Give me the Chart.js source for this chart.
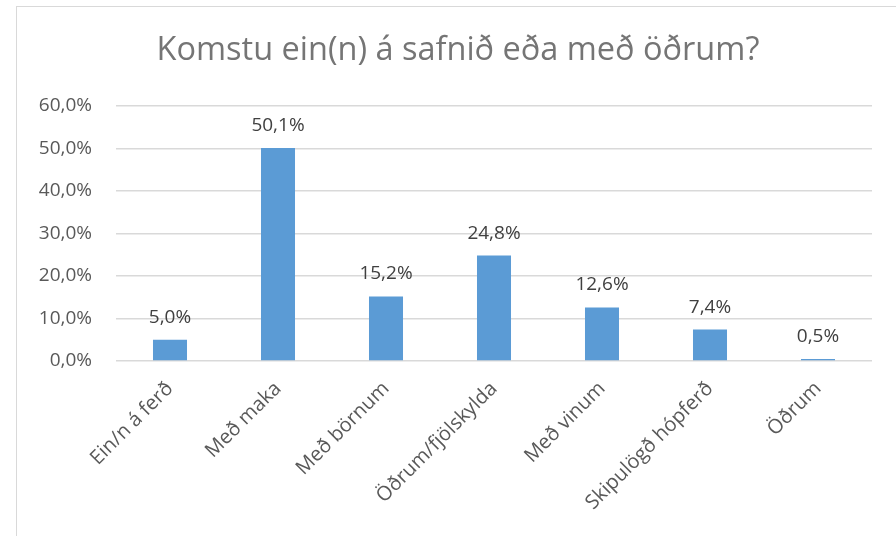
<!DOCTYPE html>
<html>
<head>
<meta charset="utf-8">
<script src="https://cdn.jsdelivr.net/npm/chart.js@4.4.1/dist/chart.umd.min.js"></script>
<style>
  html, body { margin: 0; padding: 0; background: #fff; overflow: hidden; width: 896px; height: 536px; }
  #box { position: absolute; left: 16px; top: 6px; width: 900px; height: 560px; border: 1px solid #d9d9d9; box-sizing: border-box; }
  #wrap { position: absolute; left: 17px; top: 7px; width: 882px; height: 529px; }
</style>
</head>
<body>
<div id="box"></div>
<div id="wrap"><canvas id="c"></canvas></div>
<script>
const titleText = "Komstu ein(n) á safnið eða með öðrum?";
const categories = ["Ein/n á ferð", "Með maka", "Með börnum", "Öðrum/fjölskylda", "Með vinum", "Skipulögð hópferð", "Öðrum"];
const values = [5.0, 50.1, 15.2, 24.8, 12.6, 7.4, 0.5];
const yTicks = [0, 10, 20, 30, 40, 50, 60];

const fmt = v => v.toFixed(1).replace('.', ',') + '%';
const FONT = "'Open Sans', sans-serif";

const dataLabels = {
  id: 'dataLabels',
  afterDatasetsDraw(chart) {
    const ctx = chart.ctx;
    const meta = chart.getDatasetMeta(0);
    ctx.save();
    ctx.font = "19px " + FONT;
    ctx.fillStyle = '#404040';
    ctx.textAlign = 'center';
    ctx.textBaseline = 'alphabetic';
    meta.data.forEach((bar, i) => {
      ctx.fillText(fmt(values[i]), bar.x, bar.y - 17);
    });
    ctx.restore();
  }
};

new Chart(document.getElementById('c'), {
  type: 'bar',
  data: {
    labels: categories,
    datasets: [{
      data: values,
      backgroundColor: '#5b9bd5',
      borderWidth: 0,
      barPercentage: 0.63,
      categoryPercentage: 0.5
    }]
  },
  options: {
    responsive: true,
    maintainAspectRatio: false,
    animation: false,
    layout: { padding: 0 },
    plugins: {
      legend: { display: false },
      tooltip: { enabled: false },
      title: {
        display: true,
        text: titleText,
        color: '#757575',
        font: { family: FONT, size: 32.5, weight: 'normal' },
        padding: { top: 24, bottom: 36 }
      }
    },
    scales: {
      x: {
        grid: { display: false },
        border: { display: false },
        ticks: {
          color: '#595959',
          font: { family: FONT, size: 20 },
          maxRotation: 45,
          minRotation: 45,
          autoSkip: false,
          padding: 8
        },
        afterFit: s => { s.height = 175; }
      },
      y: {
        min: 0,
        max: 60,
        afterBuildTicks: s => { s.ticks = yTicks.map(v => ({ value: v })); },
        grid: { color: '#d9d9d9', lineWidth: 1.5, drawTicks: false },
        border: { display: false },
        ticks: {
          color: '#595959',
          font: { family: FONT, size: 19 },
          padding: 24,
          callback: v => fmt(v)
        },
        afterFit: s => { s.width = 99; }
      },
      yR: {
        position: 'right',
        min: 0,
        max: 1,
        grid: { display: false },
        border: { display: false },
        ticks: { display: false },
        afterFit: s => { s.width = 27; }
      }
    }
  },
  plugins: [dataLabels]
});
</script>
</body>
</html>
